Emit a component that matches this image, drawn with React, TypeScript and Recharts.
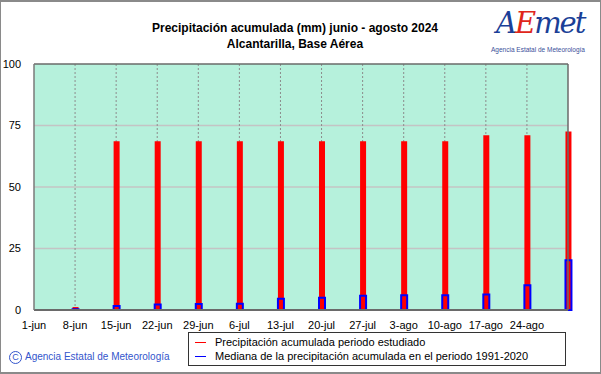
import React from 'react';
import { ComposedChart, Bar, XAxis, YAxis, CartesianGrid, ReferenceLine } from 'recharts';

const categories = ['1-jun', '8-jun', '15-jun', '22-jun', '29-jun', '6-jul', '13-jul', '20-jul', '27-jul', '3-ago', '10-ago', '17-ago', '24-ago', '31-ago'];
const dayOfPeriod = [0, 7, 14, 21, 28, 35, 42, 49, 56, 63, 70, 77, 84, 91];
const precipitacion = [0, 1.2, 68.6, 68.6, 68.6, 68.6, 68.6, 68.6, 68.6, 68.6, 68.6, 71.0, 71.0, 72.6];
const mediana = [0, 0.3, 1.6, 2.2, 2.4, 2.5, 4.6, 5.0, 5.8, 6.0, 6.0, 6.3, 10.1, 20.2];
const xTicks = [0, 7, 14, 21, 28, 35, 42, 49, 56, 63, 70, 77, 84];
const yTicks = [0, 25, 50, 75, 100];

const data = categories.map((c, i) => ({
  name: c,
  day: dayOfPeriod[i],
  precip: precipitacion[i],
  mediana: mediana[i],
}));

const labelFor = (d: number) => {
  const i = dayOfPeriod.indexOf(d);
  return i >= 0 ? categories[i] : '';
};

const FONT = '"Liberation Sans", Arial, sans-serif';

export default function App() {
  return (
    <div style={{ position: 'absolute', left: 0, top: 0, width: 601, height: 374, background: '#fff', fontFamily: FONT, overflow: 'hidden' }}>
      <div style={{ position: 'absolute', left: 0, top: 0, width: 601, height: 374, boxSizing: 'border-box', border: '1px solid #8a8a8a', borderTopWidth: 2, borderBottomWidth: 2 }} />
      <div style={{ position: 'absolute', left: 0, width: 590, top: 20, textAlign: 'center', fontSize: 12, fontWeight: 'bold', lineHeight: '16px', color: '#000' }}>
        Precipitación acumulada (mm) junio - agosto 2024
        <br />
        Alcantarilla, Base Aérea
      </div>
      <div style={{ position: 'absolute', left: 496, top: 6, fontSize: 29, fontStyle: 'italic', fontFamily: '"DejaVu Serif", serif', letterSpacing: -2, lineHeight: '34px', color: '#1b3f97' }}>
        <span style={{ color: '#1b3f97' }}>A</span><span style={{ color: '#e0261b' }}>E</span>met
      </div>
      <div style={{ position: 'absolute', left: 488, top: 46, width: 100, textAlign: 'center', fontSize: 6.5, color: '#3a4f9a', whiteSpace: 'nowrap' }}>
        Agencia Estatal de Meteorología
      </div>

      <div style={{ position: 'absolute', left: 0, top: 0 }}>
        <ComposedChart width={601} height={374} data={data} margin={{ top: 64, right: 33, bottom: 0, left: 0 }}>
          <CartesianGrid xAxisId="a" yAxisId="l" vertical={false} stroke="#c4c4c4" strokeWidth={1.5} fill="#b6f1dc" horizontalValues={[25, 50, 75]} />
          <CartesianGrid xAxisId="a" yAxisId="l" horizontal={false} stroke="#8c8c8c" strokeDasharray="2 2" verticalValues={xTicks.slice(1)} />
          <XAxis
            xAxisId="a"
            dataKey="day"
            type="number"
            domain={[0, 91]}
            ticks={xTicks}
            tickFormatter={labelFor}
            interval={0}
            height={64}
            tickLine={false}
            tickMargin={5}
            axisLine={{ stroke: '#6a6a6a', strokeWidth: 2 }}
            tick={{ fontSize: 11, fill: '#000', fontFamily: FONT }}
          />
          <XAxis xAxisId="b" dataKey="day" type="number" domain={[0, 91]} hide />
          <YAxis
            yAxisId="l"
            type="number"
            domain={[0, 100]}
            ticks={yTicks}
            width={34}
            tickLine={false}
            tickMargin={7}
            axisLine={{ stroke: '#7a7a7a', strokeWidth: 1.5 }}
            tick={{ fontSize: 11, fill: '#000', fontFamily: FONT }}
          />
          <ReferenceLine xAxisId="a" yAxisId="l" y={100} stroke="#6a6a6a" strokeWidth={1.5} />
          <ReferenceLine xAxisId="a" yAxisId="l" x={91} stroke="#6a6a6a" strokeWidth={1.5} />
          <Bar xAxisId="a" yAxisId="l" dataKey="precip" barSize={6} fill="#ff0000" isAnimationActive={false} />
          <Bar xAxisId="b" yAxisId="l" dataKey="mediana" barSize={6} fill="none" stroke="#0000ff" strokeWidth={2} isAnimationActive={false} />
        </ComposedChart>
      </div>

      <div style={{ position: 'absolute', left: 188, top: 332, width: 378, height: 34, boxSizing: 'border-box', border: '1px solid #333', background: '#fff', fontSize: 11, lineHeight: '14px', color: '#000', paddingTop: 2 }}>
        <div style={{ display: 'flex', alignItems: 'center' }}>
          <span style={{ display: 'inline-block', width: 11, height: 0, borderTop: '1px solid #ff0000', marginLeft: 6, marginRight: 9 }} />
          Precipitación acumulada periodo estudiado
        </div>
        <div style={{ display: 'flex', alignItems: 'center' }}>
          <span style={{ display: 'inline-block', width: 11, height: 0, borderTop: '1px solid #0000ff', marginLeft: 6, marginRight: 9 }} />
          Mediana de la precipitación acumulada en el periodo 1991-2020
        </div>
      </div>
      <div style={{ position: 'absolute', left: 9, top: 351, fontSize: 10, color: '#3355cc' }}>
        <span style={{ display: 'inline-block', width: 11, height: 11, lineHeight: '11px', border: '1px solid #3355cc', borderRadius: '50%', textAlign: 'center', fontSize: 9, marginRight: 3 }}>C</span>
        Agencia Estatal de Meteorología
      </div>
    </div>
  );
}
